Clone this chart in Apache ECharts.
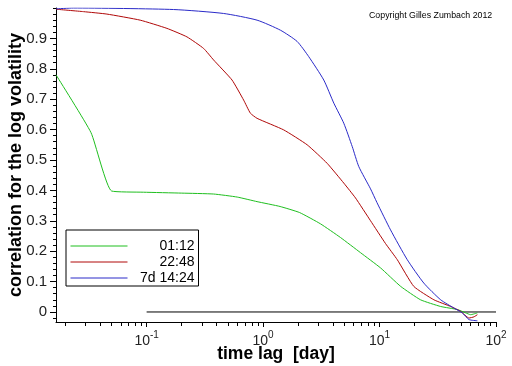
<!DOCTYPE html>
<html><head><meta charset="utf-8">
<script src="https://cdn.jsdelivr.net/npm/echarts@6/dist/echarts.min.js"></script>
<style>html,body{margin:0;padding:0;background:#fff}#c{width:512px;height:366px}</style>
</head><body><div id="c"></div>
<script>
const seriesNames = ['01:12', '22:48', '7d 14:24'];

const lagsGreen = [0.01667, 0.0333, 0.05, 0.094, 0.2, 0.376, 0.6, 0.888, 1.4, 2.06, 3.11, 4.62, 6.87, 10.2, 15.2, 22.5, 33.5, 46.6, 54.9, 60.6, 69.2];
const corrGreen = [0.78, 0.59, 0.398, 0.394, 0.391, 0.388, 0.378, 0.363, 0.347, 0.327, 0.29, 0.245, 0.195, 0.145, 0.084, 0.040, 0.018, 0.008, -0.003, -0.009, -0.003];

const lagsRed = [0.01667, 0.0287, 0.0456, 0.0881, 0.1494, 0.222, 0.3085, 0.376, 0.5413, 0.681, 0.7777, 0.888, 1.503, 2.389, 3.55, 4.93, 6.22, 8.37, 11.26, 14.2, 19.7, 29.3, 40.8, 49.7, 58.6, 64.7, 69.2];
const corrRed = [0.996, 0.988, 0.980, 0.960, 0.933, 0.905, 0.867, 0.829, 0.763, 0.697, 0.654, 0.637, 0.599, 0.550, 0.489, 0.424, 0.375, 0.30, 0.225, 0.172, 0.084, 0.040, 0.018, 0.002, -0.020, -0.016, -0.009];

const lagsBlue = [0.01667, 0.0235, 0.1703, 0.4585, 0.888, 1.409, 1.96, 2.466, 3.32, 4.05, 4.93, 5.83, 6.64, 8.37, 9.5, 12.43, 17.3, 24.0, 33.5, 43.5, 51.4, 58.6, 69.2];
const corrBlue = [0.997, 1.0, 0.995, 0.982, 0.960, 0.927, 0.890, 0.840, 0.763, 0.687, 0.621, 0.544, 0.478, 0.405, 0.36, 0.27, 0.172, 0.095, 0.040, 0.013, -0.003, -0.025, -0.029];

const zeroLineX = [0.1, 100];
const zeroLineY = [0, 0];

const xMajorTicks = [0.1, 1, 10, 100];
const xMinorTicks = [0.02,0.03,0.04,0.05,0.06,0.07,0.08,0.09, 0.2,0.3,0.4,0.5,0.6,0.7,0.8,0.9, 2,3,4,5,6,7,8,9, 20,30,40,50,60,70,80,90];
const yMajorTicks = [0, 0.1, 0.2, 0.3, 0.4, 0.5, 0.6, 0.7, 0.8, 0.9];
const yMinorTicks = [-0.02, 0.02,0.04,0.06,0.08, 0.12,0.14,0.16,0.18, 0.22,0.24,0.26,0.28, 0.32,0.34,0.36,0.38, 0.42,0.44,0.46,0.48, 0.52,0.54,0.56,0.58, 0.62,0.64,0.66,0.68, 0.72,0.74,0.76,0.78, 0.82,0.84,0.86,0.88, 0.92,0.94,0.96,0.98, 1.0];

const X_MIN = 1/60, X_MAX = 100, Y_MIN = -0.033, Y_MAX = 1.0;
const FONT = "'Liberation Sans', Arial, sans-serif";
const colors = ['#1fbf1f', '#b00808', '#2a2ac8'];

function zip(xs, ys) { return xs.map((x, i) => [x, ys[i]]); }

const chart = echarts.init(document.getElementById('c'), null, {renderer: 'canvas'});
chart.setOption({
  animation: false,
  backgroundColor: '#fff',
  color: colors,
  textStyle: {fontFamily: FONT},
  title: {
    text: 'Copyright Gilles Zumbach 2012', left: 369, top: 11, padding: 0,
    textStyle: {fontSize: 8.8, fontWeight: 'normal', color: '#000', fontFamily: FONT}
  },
  grid: {left: 56, right: 16, top: 8, bottom: 44, containLabel: false, outerBoundsMode: 'none'},
  legend: {
    data: seriesNames,
    orient: 'vertical', left: 66, top: 230,
    itemWidth: 57, itemHeight: 14, itemGap: 2,
    padding: [9, 4, 1, 4], borderColor: '#000', borderWidth: 1, backgroundColor: '#fff',
    lineStyle: {width: 1},
    itemStyle: {opacity: 0, borderWidth: 0},
    formatter: '{a|{name}}',
    textStyle: {fontSize: 14, lineHeight: 14, color: '#000', fontFamily: FONT,
      rich: {a: {width: 62, align: 'right', fontSize: 14, lineHeight: 14, color: '#000', fontFamily: FONT}}}
  },
  xAxis: [{
    type: 'log', min: X_MIN, max: X_MAX, position: 'bottom',
    name: 'time lag  [day]', nameLocation: 'middle', nameGap: 23, nameMoveOverlap: false,
    nameTextStyle: {fontSize: 17.5, fontWeight: 'bold', color: '#000', fontFamily: FONT},
    axisLine: {onZero: false, lineStyle: {color: '#000', width: 1}},
    axisTick: {show: true, length: 5, customValues: xMajorTicks, lineStyle: {color: '#000'}},
    axisLabel: {
      customValues: xMajorTicks, margin: 8, color: '#222',
      formatter: v => '{b|10}{s|' + Math.round(Math.log10(v)) + '}',
      rich: {
        b: {fontSize: 14, lineHeight: 18, fontFamily: FONT, color: '#222', verticalAlign: 'bottom'},
        s: {fontSize: 10, lineHeight: 10, fontFamily: FONT, color: '#222', verticalAlign: 'top'}
      }
    },
    splitLine: {show: false}, minorTick: {show: false}
  }, {
    type: 'log', min: X_MIN, max: X_MAX, position: 'bottom', offset: 0,
    axisLine: {show: false, onZero: false},
    axisTick: {show: true, length: 4, customValues: xMinorTicks, lineStyle: {color: '#000'}},
    axisLabel: {show: false}, splitLine: {show: false}
  }],
  yAxis: [{
    type: 'value', min: Y_MIN, max: Y_MAX, position: 'left',
    name: 'correlation for the log volatility', nameLocation: 'middle', nameGap: 31, nameRotate: 90, nameMoveOverlap: false,
    nameTextStyle: {fontSize: 18, fontWeight: 'bold', color: '#000', fontFamily: FONT},
    axisLine: {show: true, onZero: false, lineStyle: {color: '#000', width: 1}},
    axisTick: {show: true, length: 6, customValues: yMajorTicks, lineStyle: {color: '#000'}},
    axisLabel: {customValues: yMajorTicks, margin: 9, fontSize: 15, color: '#222', fontFamily: FONT,
      formatter: v => String(Math.round(v * 10) / 10)},
    splitLine: {show: false}
  }, {
    type: 'value', min: Y_MIN, max: Y_MAX, position: 'left', offset: 0,
    axisLine: {show: false, onZero: false},
    axisTick: {show: true, length: 3, customValues: yMinorTicks, lineStyle: {color: '#000'}},
    axisLabel: {show: false}, splitLine: {show: false}
  }],
  series: [
    {name: seriesNames[0], type: 'line', data: zip(lagsGreen, corrGreen), symbol: 'none', smooth: 0.15, lineStyle: {width: 1, color: colors[0]}, itemStyle: {color: colors[0]}},
    {name: seriesNames[1], type: 'line', data: zip(lagsRed, corrRed), symbol: 'none', smooth: 0.15, lineStyle: {width: 1, color: colors[1]}, itemStyle: {color: colors[1]}},
    {name: seriesNames[2], type: 'line', data: zip(lagsBlue, corrBlue), symbol: 'none', smooth: 0.2, lineStyle: {width: 1, color: colors[2]}, itemStyle: {color: colors[2]}},
    {name: 'zero', type: 'line', data: zip(zeroLineX, zeroLineY), symbol: 'none', silent: true, lineStyle: {width: 1, color: '#000'}, itemStyle: {color: '#000'}, z: 1}
  ]
});
</script></body></html>
